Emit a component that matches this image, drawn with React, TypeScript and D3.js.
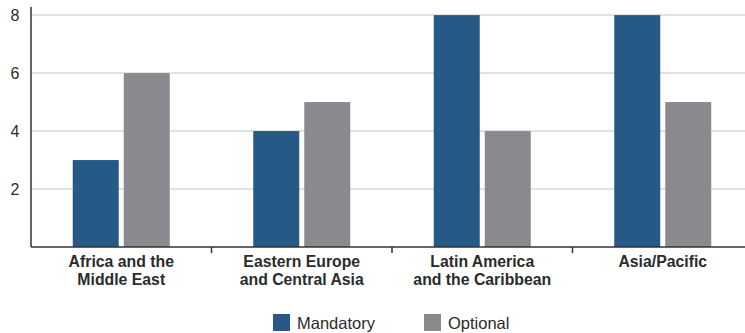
import React from "react";
import * as d3 from "d3";

const categories = [
  ["Africa and the", "Middle East"],
  ["Eastern Europe", "and Central Asia"],
  ["Latin America", "and the Caribbean"],
  ["Asia/Pacific"],
];
const mandatory = [3, 4, 8, 8];
const optional = [6, 5, 4, 5];
const yTicks = [2, 4, 6, 8];
const seriesNames = ["Mandatory", "Optional"];

const W = 745;
const H = 333;
const left = 31;
const right = 753;
const top = 7;
const bottom = 247;
const BLUE = "#275987";
const GRAY = "#8a898e";
const TEXT = "#2b2b2b";
const FONT = "'Liberation Sans', Arial, Helvetica, sans-serif";

export default function App() {
  const x = d3
    .scaleBand<number>()
    .domain(d3.range(categories.length))
    .range([left, right]);
  const y = d3.scaleLinear().domain([0, 8.28]).range([bottom, top]);
  const bw = x.bandwidth();
  const barW = 46;
  const gap = 5;
  const groupW = barW * 2 + gap;
  const values = [mandatory, optional];
  const colors = [BLUE, GRAY];

  return (
    <svg
      width={W}
      height={H}
      style={{ position: "absolute", left: 0, top: 0 }}
      fontFamily={FONT}
    >
      <rect width={W} height={H} fill="#fff" />
      {yTicks.map((t) => (
        <g key={t}>
          <line x1={left} x2={W} y1={y(t)} y2={y(t)} stroke="#d8d8d8" strokeWidth={1.5} />
          <text x={19.5} y={y(t) + 5.8} textAnchor="end" fontSize={16} fill={TEXT}>
            {t}
          </text>
        </g>
      ))}
      {values.map((vals, s) =>
        vals.map((v, i) => {
          const x0 = (x(i) as number) + bw / 2 - groupW / 2 + s * (barW + gap);
          return (
            <rect
              key={`${s}-${i}`}
              x={x0}
              y={y(v)}
              width={barW}
              height={y(0) - y(v)}
              fill={colors[s]}
            />
          );
        })
      )}
      <line x1={left} x2={left} y1={top} y2={bottom} stroke="#333" strokeWidth={1.5} />
      <line x1={left} x2={W} y1={bottom} y2={bottom} stroke="#333" strokeWidth={1.5} />
      {d3.range(1, categories.length).map((i) => (
        <line
          key={i}
          x1={x(i) as number}
          x2={x(i) as number}
          y1={bottom}
          y2={bottom + 6}
          stroke="#333"
          strokeWidth={1.5}
        />
      ))}
      {categories.map((lines, i) => (
        <text
          key={i}
          x={(x(i) as number) + bw / 2}
          textAnchor="middle"
          fontSize={15.8}
          fontWeight="bold"
          fill={TEXT}
        >
          {lines.map((l, j) => (
            <tspan key={j} x={(x(i) as number) + bw / 2} y={267 + j * 18}>
              {l}
            </tspan>
          ))}
        </text>
      ))}
      {seriesNames.map((n, s) => {
        const lx = s === 0 ? 273 : 424;
        return (
          <g key={n}>
            <rect x={lx} y={314} width={17} height={17} fill={colors[s]} />
            <text x={lx + 24} y={328.5} fontSize={16.5} fill={TEXT}>
              {n}
            </text>
          </g>
        );
      })}
    </svg>
  );
}
